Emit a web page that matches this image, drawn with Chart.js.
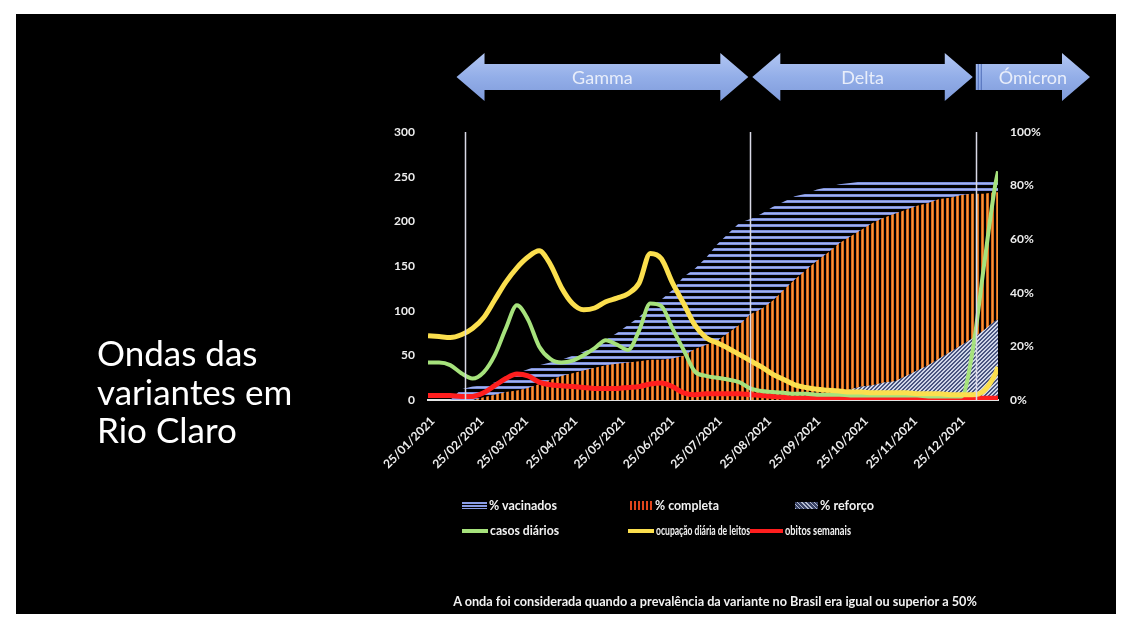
<!DOCTYPE html>
<html>
<head>
<meta charset="utf-8">
<title>Ondas das variantes em Rio Claro</title>
<script src="https://cdn.jsdelivr.net/npm/chart.js@4.4.0/dist/chart.umd.min.js"></script>
<style>
  body { margin:0; background:#fff; width:1130px; height:629px; overflow:hidden; font-family:Lato, "Open Sans", sans-serif; }
  .frame { position:absolute; left:16px; top:14px; width:1100px; height:600px; background:#000; }
  #chart { position:absolute; left:16px; top:14px; }
  .title { position:absolute; left:97px; top:333px; color:#fff; font-size:35px; line-height:38.5px; }
  .legend .item { position:absolute; color:#f2f2f2; font-size:12.5px; font-weight:bold; white-space:nowrap; display:flex; align-items:center; height:15px; }
  .legend .sw { display:inline-block; margin-right:2px; flex:none; }
  .legend .txt { display:inline-block; transform-origin:left center; }
  .note { position:absolute; left:0; width:1430px; top:593px; text-align:center; color:#f2f2f2; font-size:12.7px; font-weight:bold; }
</style>
</head>
<body>
<div class="frame"></div>
<canvas id="chart" width="1100" height="600"></canvas>
<div class="title">Ondas das<br>variantes em<br>Rio Claro</div>
<div class="legend" id="legend"></div>
<div class="note">A onda foi considerada quando a prevalência da variante no Brasil era igual ou superior a 50%</div>

<script>
// dias contados a partir de 25/01/2021
var days = [-3,4,11,18,25,32,39,46,53,60,67,74,81,88,95,102,109,116,123,130,137,144,151,158,165,172,179,186,193,200,
  207,214,221,228,235,242,249,256,263,270,277,284,291,298,305,312,319,326,333,340,347,354,356];

var tickDays = [0,31,59,90,120,151,181,212,243,273,304,334];
var tickLabels = ['25/01/2021','25/02/2021','25/03/2021','25/04/2021','25/05/2021','25/06/2021',
  '25/07/2021','25/08/2021','25/09/2021','25/10/2021','25/11/2021','25/12/2021'];

// eixo esquerdo
var casosDiarios = [42,42,39,30,24,31,50,80,106,90,60,46,42,44,50,58,67,62,56,78,108,105,80,56,32,
  27,25,23,20,13,10,9,8,7,7,6,6,6,5,5,5,5,5,5,5,4,4,4,4,55,148,238,256];
var ocupacaoLeitos = [72,71,70,73,80,92,112,132,148,160,167,152,126,108,101,103,110,114,119,131,164,158,131,108,84,
  70,64,58,51,44,37,29,23,17,14,12,11,10,9,9,8,8,8,8,7,7,7,6,6,6,10,28,37];
var obitosSemanais = [5,5,5,4,4,8,16,24,29,27,20,17,16,15,14,13,13,13,14,15,18,19,15,8,6,
  7,7,7,7,6,5,4,3,2,2,2,2,2,2,2,2,2,2,2,2,2,2,2,2,2,2,2,2];

// eixo direito (%)
var pctVacinados = [0,0,0,4,5,5.5,6.5,8,10,11.5,13,14,15,16.5,18,20,22.5,25,28,31,35,37.5,41,46,49,
  53,58,62,66,67.5,69.5,72,74,76,77,78.5,79.5,80.5,81,81.5,82,82,82,82,82,82,82.5,82.5,82.5,82.5,82.5,82.5,82.5];
var pctCompleta = [0,0,0,0,0,1,2,3,3.5,4.5,6,7.5,9,10,11,12,13,13.5,14,14.5,15,15,15.5,16.5,19,
  20.5,22,25,28,32,34,37,41,45,48.5,52,55,58.5,61,63.5,66,68,69.5,71,72.5,73.5,75,75.5,76.5,77,77,77.5,77.5];
var pctReforco = [0,0,0,0,0,0,0,0,0,0,0,0,0,0,0,0,0,0,0,0,0,0,0,0,0,0,0,0,0,0,0,0,0,0,
  0.5,1,2,3,4,5,5.5,6.5,7,9,11,13,15.5,18,20.5,23,26,29.5,30];

var variantes = ['Gamma','Delta','Ómicron'];
var inicioVariantes = [20, 200, 342];

function pts(arr) {
  return days.map(function (d, i) { return {x: d, y: arr[i]}; });
}

function makePattern(w, h, draw) {
  var c = document.createElement('canvas');
  c.width = w; c.height = h;
  var g = c.getContext('2d');
  draw(g);
  return g.createPattern(c, 'repeat');
}

var bluePattern = makePattern(4, 6, function (g) {
  g.fillStyle = '#7d90dc'; g.fillRect(0, 0, 4, 3);
  g.fillStyle = '#a3b2ee'; g.fillRect(0, 1, 4, 1);
});
var orangePattern = makePattern(5, 2, function (g) {
  g.fillStyle = '#000'; g.fillRect(0, 0, 5, 2);
  g.fillStyle = '#d8661a'; g.fillRect(0, 0, 3, 2);
  g.fillStyle = '#f09a3e'; g.fillRect(1, 0, 1, 2);
});
var hatchPattern = makePattern(4, 4, function (g) {
  g.fillStyle = '#4a5580'; g.fillRect(0, 0, 4, 4);
  g.fillStyle = '#d0d6e8';
  for (var k = 0; k < 4; k++) { g.fillRect(k, 3 - k, 1, 1); g.fillRect((k + 1) % 4, 3 - k, 1, 1); }
});

var tickFont = {family: 'Lato', weight: 'bold', size: 12};

// linhas brancas de inicio de cada variante + setas
var variantPlugin = {
  id: 'variantes',
  afterDatasetsDraw: function (chart) {
    var ctx = chart.ctx, area = chart.chartArea, x = chart.scales.x;
    ctx.save();
    ctx.strokeStyle = '#d9d9e6';
    ctx.lineWidth = 1.5;
    inicioVariantes.forEach(function (d) {
      var px = Math.round(x.getPixelForValue(d)) + 0.5;
      ctx.beginPath(); ctx.moveTo(px, area.top); ctx.lineTo(px, area.bottom); ctx.stroke();
    });
    ctx.restore();
  },
  afterDraw: function (chart) {
    var ctx = chart.ctx, x = chart.scales.x;
    var yc = 63, hh = 24, sh = 13, hw = 28;
    var p = inicioVariantes.map(function (d) { return x.getPixelForValue(d); });
    var arrows = [
      [p[0] - 8, p[1] - 2, true],
      [p[1] + 2, p[2] - 3, true],
      [p[2], chart.chartArea.right + 92, false]
    ];
    ctx.save();
    arrows.forEach(function (a, i) {
      var x1 = a[0], x2 = a[1];
      var grad = ctx.createLinearGradient(0, yc - hh, 0, yc + hh);
      grad.addColorStop(0, '#b2c6f3');
      grad.addColorStop(0.5, '#93aee8');
      grad.addColorStop(1, '#7f9bdb');
      ctx.fillStyle = grad;
      ctx.beginPath();
      if (a[2]) {
        ctx.moveTo(x1, yc);
        ctx.lineTo(x1 + hw, yc - hh);
        ctx.lineTo(x1 + hw, yc - sh);
      } else {
        ctx.moveTo(x1, yc - sh);
      }
      ctx.lineTo(x2 - hw, yc - sh);
      ctx.lineTo(x2 - hw, yc - hh);
      ctx.lineTo(x2, yc);
      ctx.lineTo(x2 - hw, yc + hh);
      ctx.lineTo(x2 - hw, yc + sh);
      if (a[2]) {
        ctx.lineTo(x1 + hw, yc + sh);
        ctx.lineTo(x1 + hw, yc + hh);
      } else {
        ctx.lineTo(x1, yc + sh);
      }
      ctx.closePath();
      ctx.fill();
      if (!a[2]) {
        ctx.strokeStyle = '#4f6cb8';
        ctx.lineWidth = 1;
        [2.5, 5.5].forEach(function (o) {
          ctx.beginPath(); ctx.moveTo(x1 + o, yc - sh); ctx.lineTo(x1 + o, yc + sh); ctx.stroke();
        });
      }
      ctx.fillStyle = '#e9eefa';
      ctx.font = '18px Lato';
      ctx.textAlign = 'center';
      ctx.textBaseline = 'middle';
      ctx.fillText(variantes[i], (x1 + x2) / 2, yc + 1);
    });
    ctx.restore();
  }
};

var chart = new Chart(document.getElementById('chart'), {
  type: 'line',
  data: {
    datasets: [
      { label: '% vacinados', data: pts(pctVacinados), yAxisID: 'y1', backgroundColor: bluePattern,
        fill: 'origin', borderWidth: 0, pointRadius: 0, order: 6, swatch: 'blue' },
      { label: '% completa', data: pts(pctCompleta), yAxisID: 'y1', backgroundColor: orangePattern,
        fill: 'origin', borderWidth: 0, pointRadius: 0, order: 5, swatch: 'orange' },
      { label: '% reforço', data: pts(pctReforco), yAxisID: 'y1', backgroundColor: hatchPattern,
        fill: 'origin', borderWidth: 0, pointRadius: 0, order: 4, swatch: 'hatch' },
      { label: 'casos diários', data: pts(casosDiarios), yAxisID: 'y', borderColor: '#a6e27c',
        borderWidth: 4, pointRadius: 0, cubicInterpolationMode: 'monotone', order: 2 },
      { label: 'ocupação diária de leitos', data: pts(ocupacaoLeitos), yAxisID: 'y', borderColor: '#fbdf4e',
        borderWidth: 5, pointRadius: 0, cubicInterpolationMode: 'monotone', order: 1 },
      { label: 'obitos semanais', data: pts(obitosSemanais), yAxisID: 'y', borderColor: '#ff1e1e',
        borderWidth: 5, pointRadius: 0, cubicInterpolationMode: 'monotone', order: 3 }
    ]
  },
  options: {
    responsive: false,
    animation: false,
    layout: { padding: { left: 354, right: 46, top: 118, bottom: 134 } },
    plugins: { legend: { display: false }, tooltip: { enabled: false } },
    scales: {
      x: {
        type: 'linear', min: -3, max: 356,
        afterBuildTicks: function (a) { a.ticks = tickDays.map(function (v) { return {value: v}; }); },
        afterFit: function (a) { a.height = 80; },
        ticks: { autoSkip: false, minRotation: 45, maxRotation: 45, color: '#ededed', font: tickFont, padding: 14,
          callback: function (v) { return tickLabels[tickDays.indexOf(v)]; } },
        grid: { display: false, drawTicks: false },
        border: { display: true, color: '#e6e6e6', width: 2 }
      },
      y: {
        position: 'left', min: 0, max: 300,
        afterFit: function (a) { a.width = 58; },
        ticks: { stepSize: 50, color: '#ededed', font: tickFont, padding: 13 },
        grid: { display: false, drawTicks: false },
        border: { display: false }
      },
      y1: {
        position: 'right', min: 0, max: 100,
        afterFit: function (a) { a.width = 72; },
        ticks: { stepSize: 20, color: '#ededed', font: tickFont, padding: 12,
          callback: function (v) { return v + '%'; } },
        grid: { display: false, drawTicks: false },
        border: { display: false }
      }
    }
  },
  plugins: [variantPlugin]
});

// legenda em duas linhas como no original (posição e largura do texto de cada item)
var legendSlots = [[462, 498, 68], [630, 498, 64], [795, 498, 54], [462, 523, 69], [628, 523, 94], [750, 523, 66]];
var swatchCss = {
  blue: 'width:25px;height:7px;background:repeating-linear-gradient(to bottom,#8a9ce6 0 2px,transparent 2px 3px);',
  orange: 'width:23px;height:9px;background:repeating-linear-gradient(to right,#e0461c 0 2px,transparent 2px 4px);',
  hatch: 'width:23px;height:7px;background:repeating-linear-gradient(45deg,#b4bccf 0 1px,#3a4366 1px 3px);'
};
var legend = document.getElementById('legend');
chart.data.datasets.forEach(function (ds, i) {
  var slot = legendSlots[i];
  var item = document.createElement('div');
  item.className = 'item';
  item.style.left = slot[0] + 'px';
  item.style.top = slot[1] + 'px';
  var sw = document.createElement('span');
  sw.className = 'sw';
  if (ds.swatch) {
    sw.style.cssText = swatchCss[ds.swatch];
  } else {
    var w = i === 5 ? 33 : 26;
    sw.style.cssText = 'width:' + w + 'px;height:4px;background:' + ds.borderColor + ';';
  }
  var txt = document.createElement('span');
  txt.className = 'txt';
  txt.textContent = ds.label;
  item.appendChild(sw);
  item.appendChild(txt);
  legend.appendChild(item);
  var tw = txt.getBoundingClientRect().width;
  if (tw > 0) txt.style.transform = 'scaleX(' + (slot[2] / tw) + ')';
});
</script>
</body>
</html>
